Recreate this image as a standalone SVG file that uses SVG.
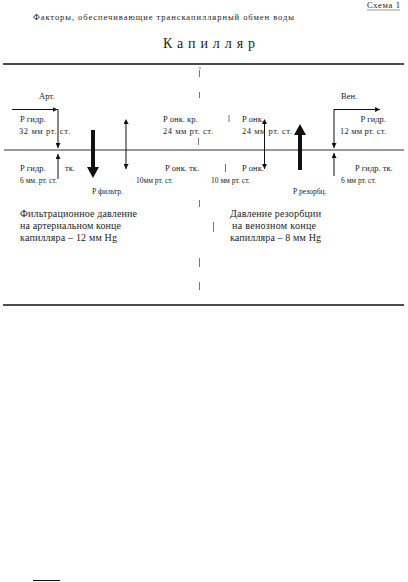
<svg xmlns="http://www.w3.org/2000/svg" width="408" height="582" viewBox="0 0 408 582">
<defs>
<marker id="ah" viewBox="0 0 10 10" refX="10" refY="5" markerWidth="5" markerHeight="5" orient="auto" markerUnits="userSpaceOnUse"><path d="M0,0 L10,5 L0,10 z" fill="#111"/></marker>
<marker id="ahs" viewBox="0 0 10 10" refX="0" refY="5" markerWidth="5" markerHeight="5" orient="auto-start-reverse" markerUnits="userSpaceOnUse"><path d="M0,0 L10,5 L0,10 z" fill="#111"/></marker>
</defs>
<style>
text{font-family:"Liberation Serif","Times New Roman",serif;fill:#222;font-size:8.5px}
.s{font-size:7.5px}
.t{font-size:14px}
.b{font-size:10px}
.ln{stroke:#111;stroke-width:1;fill:none}
.dash{stroke:#555;stroke-width:0.8}
.thick{fill:#111}
</style>
<rect width="408" height="582" fill="#fff"/>
<g id="header">
<text x="367" y="8" textLength="33">Схема 1</text>
<line x1="367" y1="10" x2="400" y2="10" stroke="#555" stroke-width="0.6"/>
<text x="33" y="20" textLength="261">Факторы, обеспечивающие  транскапиллярный обмен воды</text>
<text x="163" y="48" class="t" textLength="92" lengthAdjust="spacing">Капилляр</text>
</g>
<g id="frame">
<line x1="3" y1="64" x2="404" y2="64" stroke="#111" stroke-width="1.5"/>
<line x1="3" y1="305" x2="404" y2="305" stroke="#111" stroke-width="1.5"/>
<line x1="4" y1="150" x2="404" y2="150" stroke="#777" stroke-width="1.3"/>
<line x1="33" y1="580.5" x2="60" y2="580.5" stroke="#111" stroke-width="1"/>
</g>
<g id="dividers" class="dash">
<line x1="200" y1="67" x2="200" y2="69"/>
<line x1="199.5" y1="70" x2="199.5" y2="77"/>
<line x1="199.5" y1="92" x2="199.5" y2="98"/>
<line x1="229" y1="115" x2="229" y2="122"/>
<line x1="198.5" y1="138" x2="198.5" y2="145"/>
<line x1="225.5" y1="164" x2="225.5" y2="172"/>
<line x1="199.5" y1="200" x2="199.5" y2="207"/>
<line x1="213.5" y1="222" x2="213.5" y2="232"/>
<line x1="199.5" y1="258" x2="199.5" y2="267"/>
<line x1="199.5" y1="282" x2="199.5" y2="290"/>
</g>
<g id="connectors">
<polyline class="ln" points="12,109.5 57.5,109.5" marker-end="url(#ah)"/>
<line class="ln" x1="58" y1="109" x2="58" y2="148" marker-end="url(#ah)"/>
<line class="ln" x1="58" y1="179" x2="58" y2="154" marker-end="url(#ah)"/>
<line class="ln" x1="126" y1="124" x2="126" y2="169" marker-start="url(#ahs)" marker-end="url(#ah)"/>
<line class="ln" x1="264.5" y1="124" x2="264.5" y2="169" marker-start="url(#ahs)" marker-end="url(#ah)"/>
<line class="ln" x1="334" y1="109.5" x2="380" y2="109.5" marker-end="url(#ah)"/>
<line class="ln" x1="334" y1="109" x2="334" y2="148" marker-end="url(#ah)"/>
<line class="ln" x1="334" y1="176" x2="334" y2="153" marker-end="url(#ah)"/>
<path class="thick" d="M91,130 h4 v37 h4 l-6,11 l-6,-11 h4 z"/>
<path class="thick" d="M298,170 h4 v-35 h4 l-6,-11 l-6,11 h4 z"/>
</g>
<g id="art">
<text x="39" y="99">Арт.</text>
<text x="20" y="122">Р гидр.</text>
<text x="19" y="134" textLength="51">32 мм рт. ст.</text>
</g>
<g id="art-tissue">
<text x="20" y="171">Р гидр.</text>
<text x="65" y="171">тк.</text>
<text x="20" y="183" class="s">6 мм. рт. ст.</text>
<text x="92" y="194" class="s">Р фильтр.</text>
</g>
<g id="onk-cap">
<text x="163" y="122">Р онк. кр.</text>
<text x="163" y="134" textLength="50">24 мм рт. ст.</text>
<text x="242" y="122">Р онк.</text>
<text x="242" y="134" textLength="50">24 мм рт. ст.</text>
</g>
<g id="onk-tissue">
<text x="165" y="171">Р онк. тк.</text>
<text x="136" y="183" class="s">10мм рт. ст.</text>
<text x="242" y="171">Р онк.</text>
<text x="211" y="183" class="s">10 мм рт. ст.</text>
</g>
<g id="ven">
<text x="341" y="99">Вен.</text>
<text x="386" y="122" text-anchor="end">Р гидр.</text>
<text x="386" y="134" text-anchor="end" textLength="46">12 мм рт. ст.</text>
<text x="355" y="171">Р гидр. тк.</text>
<text x="341" y="183" class="s">6 мм рт. ст.</text>
<text x="293" y="194" class="s">Р резорбц.</text>
</g>
<g id="summary-left">
<text x="20" y="217" class="b" textLength="117">Фильтрационное давление</text>
<text x="20" y="229" class="b" textLength="101">на артериальном конце</text>
<text x="20" y="241" class="b" textLength="97">капилляра – 12 мм Hg</text>
</g>
<g id="summary-right">
<text x="230" y="217" class="b" textLength="91">Давление резорбции</text>
<text x="232" y="229" class="b" textLength="84">на венозном конце</text>
<text x="230" y="241" class="b" textLength="91">капилляра – 8 мм Hg</text>
</g>
</svg>
